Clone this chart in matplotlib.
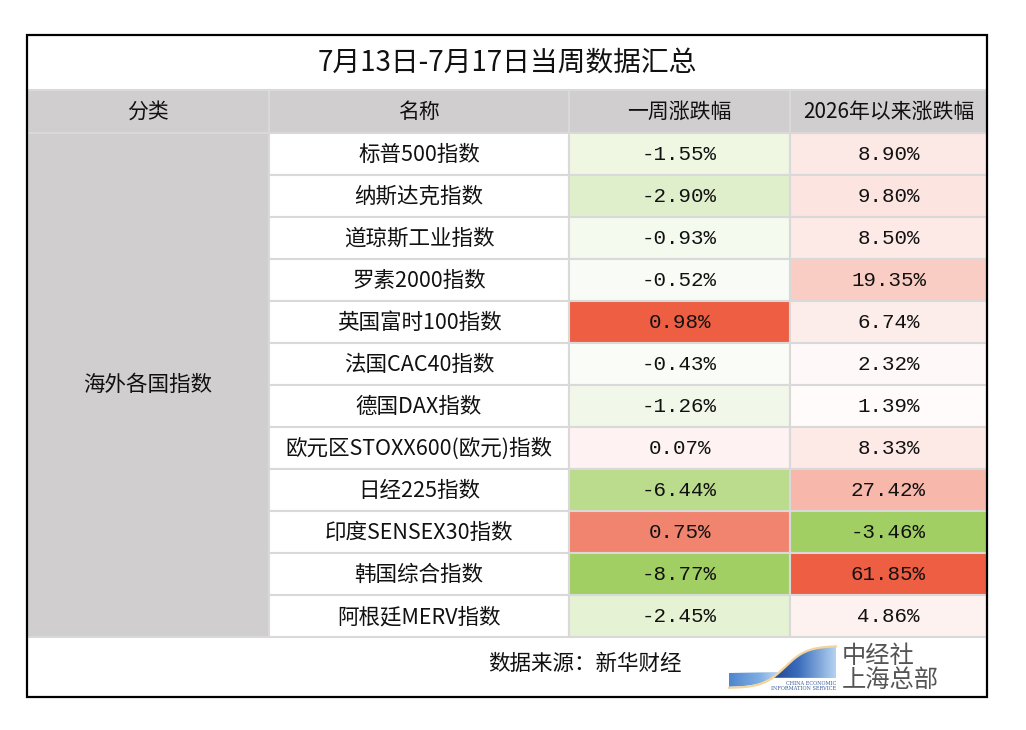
import numpy as np
import matplotlib.pyplot as plt
from matplotlib.patches import Rectangle, Polygon
from matplotlib.colors import LinearSegmentedColormap

plt.rcParams['font.family'] = ['Noto Sans CJK SC', 'DejaVu Sans']

# 数据
title = "7月13日-7月17日当周数据汇总"
headers = ["分类", "名称", "一周涨跌幅", "2026年以来涨跌幅"]
category = "海外各国指数"
names = ["标普500指数", "纳斯达克指数", "道琼斯工业指数", "罗素2000指数",
         "英国富时100指数", "法国CAC40指数", "德国DAX指数", "欧元区STOXX600(欧元)指数",
         "日经225指数", "印度SENSEX30指数", "韩国综合指数", "阿根廷MERV指数"]
week_chg = [-1.55, -2.90, -0.93, -0.52, 0.98, -0.43, -1.26, 0.07, -6.44, 0.75, -8.77, -2.45]
ytd_chg = [8.90, 9.80, 8.50, 19.35, 6.74, 2.32, 1.39, 8.33, 27.42, -3.46, 61.85, 4.86]
source = "数据来源：新华财经"

# 布局 (像素)
W, H = 1026, 730
col_x = [27, 269, 569, 790, 987]
top, title_h, head_h, row_h, foot_h = 35, 55, 43, 42, 60
grid_c = '#d9d9d9'
gray_bg = '#d0cecf'
RED = np.array([237, 94, 66]) / 255
GREEN = np.array([162, 207, 99]) / 255


def cell_color(v, vals):
    vals = np.array(vals)
    if v >= 0:
        t = v / vals[vals > 0].max()
        c = RED
    else:
        t = v / vals[vals < 0].min()
        c = GREEN
    return tuple(1 - t * (1 - c))


fig = plt.figure(figsize=(W / 100, H / 100), dpi=100)
ax = fig.add_axes([0, 0, 1, 1])
ax.set_xlim(0, W)
ax.set_ylim(H, 0)
ax.axis('off')

y_head = top + title_h
y_rows = y_head + head_h
n = len(names)
y_foot = y_rows + n * row_h
bottom = y_foot + foot_h

# 标题
ax.text((col_x[0] + col_x[-1]) / 2, top + title_h / 2, title, ha='center', va='center',
        fontsize=20, color='#111111')

# 表头
for j, h in enumerate(headers):
    ax.add_patch(Rectangle((col_x[j], y_head), col_x[j + 1] - col_x[j], head_h,
                           facecolor=gray_bg, edgecolor=grid_c, lw=1.5))
    ax.text((col_x[j] + col_x[j + 1]) / 2, y_head + head_h / 2, h, ha='center', va='center',
            fontsize=15, color='#111111')

# 分类
ax.add_patch(Rectangle((col_x[0], y_rows), col_x[1] - col_x[0], n * row_h,
                       facecolor=gray_bg, edgecolor=grid_c, lw=1.5))
ax.text((col_x[0] + col_x[1]) / 2, y_rows + n * row_h / 2, category, ha='center', va='center',
        fontsize=15.5, color='#111111')

# 数据行
for i in range(n):
    y = y_rows + i * row_h
    cells = [
        (names[i], 'white', ['Noto Sans CJK SC'], 15.5),
        (f"{week_chg[i]:.2f}%", cell_color(week_chg[i], week_chg), ['Liberation Mono'], 15),
        (f"{ytd_chg[i]:.2f}%", cell_color(ytd_chg[i], ytd_chg), ['Liberation Mono'], 15),
    ]
    for k, (txt, fc, fam, fs) in enumerate(cells):
        j = k + 1
        ax.add_patch(Rectangle((col_x[j], y), col_x[j + 1] - col_x[j], row_h,
                               facecolor=fc, edgecolor=grid_c, lw=1.5))
        ax.text((col_x[j] + col_x[j + 1]) / 2, y + row_h / 2 + 1, txt, ha='center', va='center',
                fontsize=fs, color='#111111', family=fam)

# 来源
ax.text(585, y_foot + 27, source, ha='center', va='center', fontsize=15.5, color='#111111')

# 外框
ax.add_patch(Rectangle((col_x[0], top), col_x[-1] - col_x[0], bottom - top,
                       facecolor='none', edgecolor='black', lw=1.6, zorder=5))

# 标志
xs = np.linspace(729, 836, 200)
curve = 667 - 21 * np.tanh((xs - 785) / 22)
grad = np.linspace(0, 1, 100)[None, :]

# 右上深蓝块 (曲线右下方)
m = curve <= 678
up = Polygon(np.column_stack([np.r_[xs[m], 836], np.r_[curve[m], 678]]),
             closed=True, facecolor='none', edgecolor='none')
ax.add_patch(up)
im1 = ax.imshow(grad, extent=(760, 836, 678, 646),
                cmap=LinearSegmentedColormap.from_list('b1', ['#16307a', '#3a6cbc', '#b4d2f0']),
                aspect='auto', zorder=2)
im1.set_clip_path(up)

# 左下浅蓝带 (曲线左上方)
m2 = curve >= 673
low = Polygon(np.column_stack([np.r_[729, xs[m2][::-1]], np.r_[673, curve[m2][::-1] - 1]]),
              closed=True, facecolor='none', edgecolor='none')
ax.add_patch(low)
im2 = ax.imshow(grad, extent=(729, 790, 690, 672),
                cmap=LinearSegmentedColormap.from_list('b2', ['#4f86cf', '#7eaee2', '#e8f0fa']),
                aspect='auto', zorder=2)
im2.set_clip_path(low)
ax.plot(xs, curve, color='#f3d49a', lw=1.6, zorder=3)

ax.text(836, 683.5, "CHINA ECONOMIC", ha='right', va='center', fontsize=3.6, color='#3a5a9a',
        family=['DejaVu Serif'], zorder=4)
ax.text(836, 688.5, "INFORMATION SERVICE", ha='right', va='center', fontsize=3.6, color='#3a5a9a',
        family=['DejaVu Serif'], zorder=4)
ax.text(842, 656, "中经社", ha='left', va='center', fontsize=17.5, color='#555555',
        fontweight='medium')
ax.text(842, 680, "上海总部", ha='left', va='center', fontsize=17.5, color='#555555',
        fontweight='medium')
ax.set_xlim(0, W)
ax.set_ylim(H, 0)

fig.savefig('out.png', dpi=100, facecolor='white')
